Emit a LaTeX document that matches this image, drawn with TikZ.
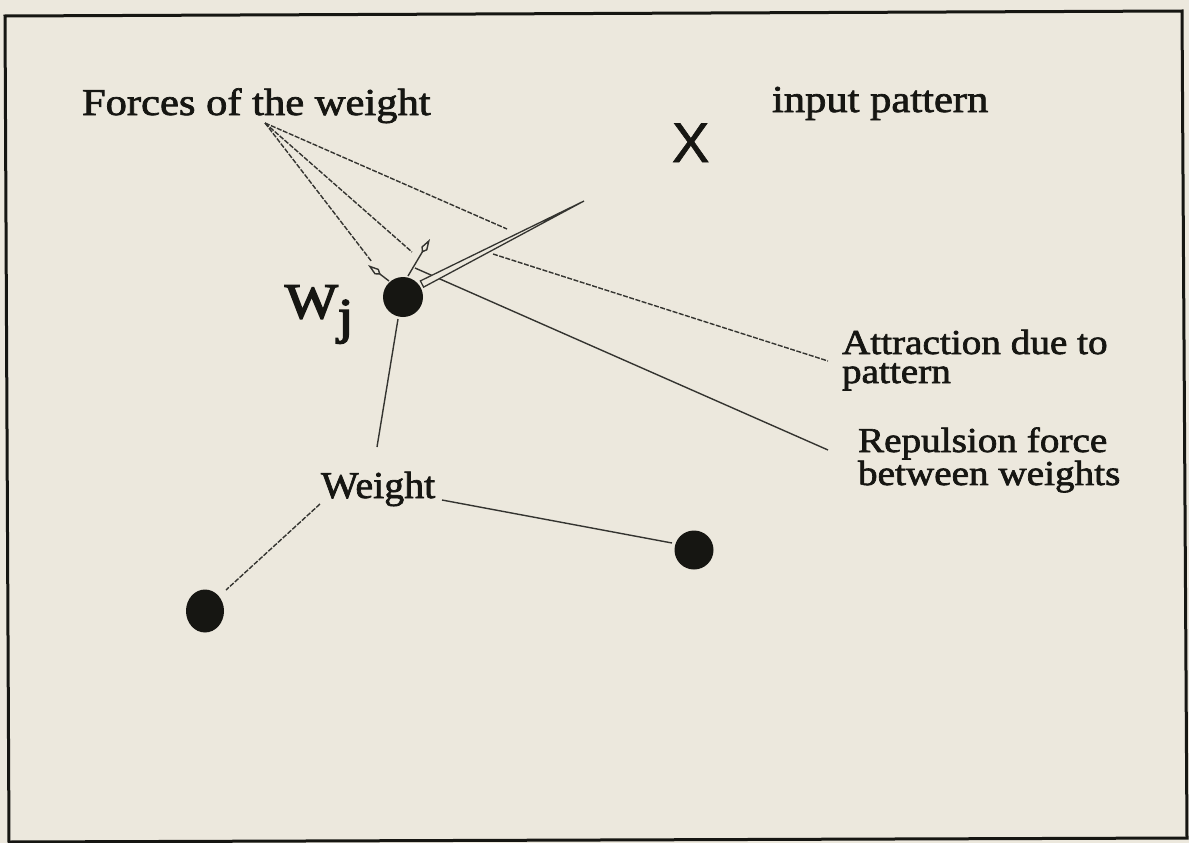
\documentclass[tikz,border=0pt]{standalone}
\usepackage{fontspec}
\setmainfont{Liberation Serif}[FakeBold=1.8]
\newfontfamily\heavyserif{Liberation Serif}[FakeBold=3]
\newfontfamily\xsans{Liberation Sans}[FakeBold=1.2]
\usetikzlibrary{arrows.meta,shapes.geometric,calc}
\definecolor{paper}{RGB}{236,232,221}
\definecolor{ink}{RGB}{22,22,18}
\definecolor{wire}{RGB}{52,52,48}
\newcommand{\wide}[2]{\scalebox{#1}[1]{#2}}
\begin{document}
\begin{tikzpicture}[x=1pt,y=-1pt,
  lbl/.style={inner sep=0pt, outer sep=0pt, anchor=base west, text=ink},
  dot/.style={fill=ink, draw=none, inner sep=0pt},
  leader/.style={draw=wire, line width=1.4pt, dash pattern=on 5pt off 1.5pt},
  plain/.style={draw=wire, line width=1.4pt},
  force/.style={draw=wire, line width=1.4pt, -{Kite[open, length=16pt, width=7pt, inset=5pt]}},
  frame/.style={draw=ink, line width=3pt, line join=miter}
]
\fill[paper] (0,0) rectangle (1189,843);
\useasboundingbox (0,0) rectangle (1189,843);
% frame
\draw[frame] (5,16) -- (1182,11) -- (1187,838) -- (9,842) -- cycle;

% labels
\node[lbl, font=\fontsize{38}{38}\selectfont] (forces) at (82,115) {\wide{1.12}{Forces of the weight}};
\node[lbl, font=\fontsize{38}{38}\selectfont] (input) at (772,112) {\wide{1.12}{input pattern}};
\node[lbl, font=\xsans\fontsize{56}{56}\selectfont] (X) at (672,162) {X};
\node[lbl, font=\heavyserif\fontsize{50}{50}\selectfont] (wj) at (285,318) {\wide{1.12}{W\raisebox{-15pt}{j}}};
\node[lbl, font=\fontsize{35}{29}\selectfont] (attr) at (842,354) {\wide{1.12}{\begin{tabular}[t]{@{}l@{}}Attraction due to\\pattern\end{tabular}}};
\node[lbl, font=\fontsize{35}{29}\selectfont] (rep) at (858,452) {\wide{1.12}{\begin{tabular}[t]{@{}l@{}}Repulsion force\\between weights\end{tabular}}};
\node[lbl, font=\fontsize{38}{38}\selectfont] (weight) at (321,498) {\wide{1.05}{Weight}};

% weights (dots)
\node[dot, circle, minimum size=40pt] (wdot) at (403,297) {};
\node[dot, circle, minimum size=39pt] (rdot) at (694,550) {};
\node[dot, ellipse, minimum width=38pt, minimum height=43pt] (ldot) at (205,611) {};

% connector end points
\coordinate (F) at (265,123);
\coordinate (e1) at (372,262);
\coordinate (e2) at (412,252);
\coordinate (e3) at (507,229);
\coordinate (a1s) at (389,281);
\coordinate (a1t) at (368,265);
\coordinate (a2s) at (408,276);
\coordinate (a2t) at (430,239);
\coordinate (a3s) at (422,284);
\coordinate (a3t) at (584,201);
\coordinate (attS) at (493,254);
\coordinate (attE) at (828,361);
\coordinate (repS) at (415,268);
\coordinate (repE) at (828,450);
\coordinate (wjB) at (398,319);
\coordinate (wtT) at (377,447);
\coordinate (wtR) at (442,500);
\coordinate (rdE) at (672,543);
\coordinate (wtL) at (320,504);
\coordinate (ldE) at (226,590);

% leaders from "Forces of the weight"
\draw[leader] (F) -- (e1);
\draw[leader] (F) -- (e2);
\draw[leader] (F) -- (e3);
% leaders to the two force labels
\draw[leader] (attS) -- (attE);
\draw[plain] (repS) -- (repE);
% leaders of "Weight"
\draw[plain] (wjB) -- (wtT);
\draw[plain] (wtR) -- (rdE);
\draw[leader] (wtL) -- (ldE);

% force arrows
\draw[force] (a1s) -- (a1t);
\draw[force] (a2s) -- (a2t);
\draw[draw=wire, fill=paper, line width=1.3pt, line join=miter]
  ($(a3s)!3.5pt!90:(a3t)$) -- (a3t) -- ($(a3s)!3.5pt!-90:(a3t)$) -- cycle;
\end{tikzpicture}
\end{document}
